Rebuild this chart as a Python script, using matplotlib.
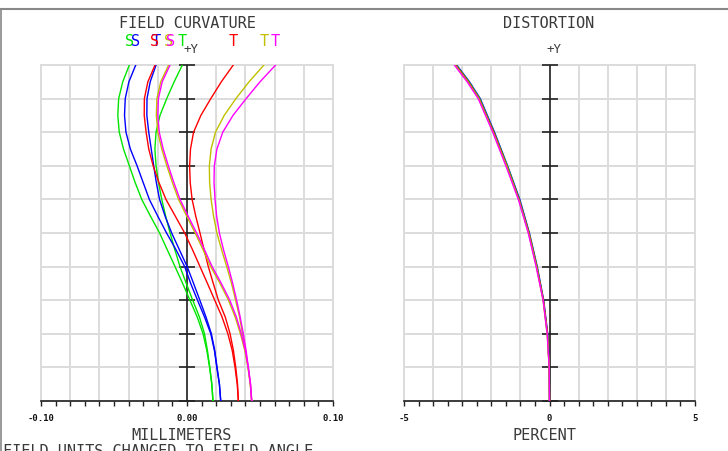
import numpy as np
import matplotlib
matplotlib.use("Agg")
import matplotlib.pyplot as plt

# field fraction, 0 = on axis, 1 = full field
FIELD = [0.00, 0.05, 0.10, 0.15, 0.20, 0.25, 0.30, 0.35, 0.40, 0.45, 0.50,
         0.55, 0.60, 0.65, 0.70, 0.75, 0.80, 0.85, 0.90, 0.95, 1.00]
GRID_FIELD = [0.0, 0.1, 0.2, 0.3, 0.4, 0.5, 0.6, 0.7, 0.8, 0.9, 1.0]

# field curvature in mm, sagittal (S) and tangential (T) per wavelength
GREEN_S = [0.0178, 0.0170, 0.0155, 0.0136, 0.0110, 0.0070, 0.0020, -0.0030, -0.0082, -0.0135, -0.0188,
           -0.0250, -0.0310, -0.0355, -0.0395, -0.0435, -0.0464, -0.0474, -0.0468, -0.0440, -0.0395]
GREEN_T = [0.0178, 0.0170, 0.0156, 0.0140, 0.0120, 0.0085, 0.0039, -0.0005, -0.0048, -0.0083, -0.0116,
           -0.0146, -0.0173, -0.0195, -0.0212, -0.0220, -0.0212, -0.0185, -0.0139, -0.0088, -0.0032]
BLUE_S = [0.0231, 0.0222, 0.0204, 0.0188, 0.0163, 0.0120, 0.0072, 0.0025, -0.0016, -0.0075, -0.0140,
          -0.0200, -0.0258, -0.0300, -0.0342, -0.0388, -0.0418, -0.0428, -0.0423, -0.0398, -0.0351]
BLUE_T = [0.0231, 0.0222, 0.0206, 0.0190, 0.0167, 0.0130, 0.0088, 0.0045, 0.0001, -0.0052, -0.0105,
          -0.0150, -0.0188, -0.0210, -0.0228, -0.0245, -0.0262, -0.0275, -0.0274, -0.0252, -0.0212]
RED_S = [0.0352, 0.0344, 0.0329, 0.0310, 0.0280, 0.0240, 0.0190, 0.0140, 0.0089, 0.0038, -0.0016,
         -0.0080, -0.0144, -0.0192, -0.0232, -0.0262, -0.0280, -0.0293, -0.0292, -0.0268, -0.0219]
RED_T = [0.0352, 0.0346, 0.0334, 0.0318, 0.0295, 0.0262, 0.0215, 0.0180, 0.0146, 0.0117, 0.0089,
         0.0060, 0.0035, 0.0022, 0.0018, 0.0024, 0.0045, 0.0095, 0.0163, 0.0235, 0.0317]
YELLOW_S = [0.0443, 0.0434, 0.0418, 0.0396, 0.0366, 0.0330, 0.0284, 0.0226, 0.0162, 0.0110, 0.0056,
            -0.0002, -0.0058, -0.0100, -0.0138, -0.0173, -0.0200, -0.0210, -0.0206, -0.0180, -0.0126]
YELLOW_T = [0.0443, 0.0433, 0.0418, 0.0400, 0.0380, 0.0360, 0.0333, 0.0305, 0.0272, 0.0237, 0.0205,
            0.0182, 0.0165, 0.0155, 0.0153, 0.0165, 0.0195, 0.0255, 0.0335, 0.0425, 0.0527]
MAGENTA_S = [0.0443, 0.0435, 0.0420, 0.0400, 0.0372, 0.0338, 0.0293, 0.0235, 0.0172, 0.0120, 0.0066,
             0.0008, -0.0048, -0.0090, -0.0128, -0.0163, -0.0190, -0.0200, -0.0196, -0.0170, -0.0116]
MAGENTA_T = [0.0443, 0.0435, 0.0420, 0.0405, 0.0386, 0.0364, 0.0340, 0.0313, 0.0283, 0.0250, 0.0222,
             0.0203, 0.0192, 0.0185, 0.0187, 0.0205, 0.0245, 0.0315, 0.0405, 0.0500, 0.0607]

# distortion in percent per wavelength
DIST_FIELD = [0.0, 0.1, 0.2, 0.3, 0.4, 0.5, 0.6, 0.7, 0.8, 0.9, 0.95, 1.0]
DIST_BLUE = [0.0, -0.01, -0.06, -0.20, -0.42, -0.69, -1.02, -1.44, -1.89, -2.38, -2.75, -3.19]
DIST_GREEN = [0.0, -0.01, -0.07, -0.21, -0.43, -0.70, -1.04, -1.45, -1.91, -2.40, -2.77, -3.21]
DIST_RED = [0.0, -0.01, -0.07, -0.21, -0.44, -0.71, -1.05, -1.47, -1.92, -2.42, -2.79, -3.23]
DIST_YELLOW = [0.0, -0.01, -0.08, -0.22, -0.45, -0.72, -1.06, -1.48, -1.94, -2.43, -2.81, -3.25]
DIST_MAGENTA = [0.0, -0.01, -0.08, -0.22, -0.46, -0.73, -1.07, -1.50, -1.95, -2.45, -2.83, -3.27]

C_GREEN = "#00e600"
C_BLUE = "#0000ff"
C_RED = "#ff0000"
C_YELLOW = "#c0c000"
C_MAGENTA = "#ff00ff"

MONO = "DejaVu Sans Mono"
GRID_C = "#dcdcdc"
TXT_C = "#3a3a3a"


def setup_axes(ax, xmin, xmax, grid_step, tick_step, labels):
    ax.set_xlim(xmin, xmax)
    ax.set_ylim(0, 1)
    for s in ["top", "left", "right"]:
        ax.spines[s].set_visible(False)
    ax.spines["bottom"].set_color("#222222")
    ax.spines["bottom"].set_linewidth(1.2)
    ax.set_yticks([])

    # grid
    for gx in np.arange(xmin, xmax + grid_step / 2, grid_step):
        ax.axvline(gx, color=GRID_C, lw=1.4, zorder=0, clip_on=False)
    for gy in GRID_FIELD:
        ax.axhline(gy, color=GRID_C, lw=1.4, zorder=0, clip_on=False)

    ticks = np.arange(xmin, xmax + tick_step / 2, tick_step)
    tl = [labels.get(round(t, 4), "") for t in ticks]
    ax.set_xticks(ticks)
    ax.set_xticklabels(tl, fontfamily=MONO, fontweight="bold", fontsize=6.5, color="#111111")
    ax.tick_params(axis="x", direction="out", length=3.5, width=1.0, color="#222222", pad=6)

    # central +Y axis with tick marks
    ax.axvline(0, color="#333333", lw=1.3, zorder=1)
    ax.plot([0] * len(GRID_FIELD), GRID_FIELD, ls="none", marker="_", ms=11, mew=1.2,
            color="#222222", zorder=1, clip_on=False)
    ax.annotate("+Y", (0, 1.0), xytext=(3, 11), textcoords="offset points", ha="center",
                va="center", fontfamily=MONO, fontsize=9, color=TXT_C)


fig = plt.figure(figsize=(7.28, 4.51), dpi=100)

# frame lines
fig.add_artist(plt.Line2D([0, 1], [1 - 9 / 451, 1 - 9 / 451], color="#888888", lw=1.5))
fig.add_artist(plt.Line2D([1 / 728, 1 / 728], [0, 1 - 9 / 451], color="#888888", lw=1.2))

ax1 = fig.add_axes([41 / 728, 50 / 451, 292 / 728, 336 / 451])
ax2 = fig.add_axes([404 / 728, 50 / 451, 291 / 728, 336 / 451])

setup_axes(ax1, -0.10, 0.10, 0.02, 0.01, {-0.1: "-0.10", 0.0: "0.00", 0.1: "0.10"})
setup_axes(ax2, -5, 5, 1, 0.5, {-5.0: "-5", 0.0: "0", 5.0: "5"})

curves = [
    (GREEN_S, GREEN_T, C_GREEN),
    (BLUE_S, BLUE_T, C_BLUE),
    (RED_S, RED_T, C_RED),
    (YELLOW_S, YELLOW_T, C_YELLOW),
    (MAGENTA_S, MAGENTA_T, C_MAGENTA),
]
for s, t, c in curves:
    ax1.plot(s, FIELD, color=c, lw=1.0, zorder=3, solid_joinstyle="round")
    ax1.plot(t, FIELD, color=c, lw=1.0, zorder=3, solid_joinstyle="round")
    ax1.annotate("S", (s[-1], 1.0), xytext=(0, 17), textcoords="offset points", ha="center",
                 va="center", fontfamily=MONO, fontsize=11, color=c)
    ax1.annotate("T", (t[-1], 1.0), xytext=(0, 17), textcoords="offset points", ha="center",
                 va="center", fontfamily=MONO, fontsize=11, color=c)

for d, c in [(DIST_BLUE, C_BLUE), (DIST_GREEN, C_GREEN), (DIST_RED, C_RED),
             (DIST_YELLOW, C_YELLOW), (DIST_MAGENTA, C_MAGENTA)]:
    ax2.plot(d, DIST_FIELD, color=c, lw=1.0, zorder=3)

# titles and axis names
fig.text(187 / 728, 1 - 23 / 451, "FIELD CURVATURE", ha="center", va="center",
         fontfamily=MONO, fontsize=11, color=TXT_C)
fig.text(549 / 728, 1 - 23 / 451, "DISTORTION", ha="center", va="center",
         fontfamily=MONO, fontsize=11, color=TXT_C)
fig.text(182 / 728, 1 - 436 / 451, "MILLIMETERS", ha="center", va="center",
         fontfamily=MONO, fontsize=11, color=TXT_C)
fig.text(544 / 728, 1 - 436 / 451, "PERCENT", ha="center", va="center",
         fontfamily=MONO, fontsize=11, color=TXT_C)
fig.text(3 / 728, 1 - 444 / 451, "FIELD UNITS CHANGED TO FIELD ANGLE", ha="left", va="top",
         fontfamily=MONO, fontsize=11, color=TXT_C)

fig.savefig("out.png", dpi=100)
